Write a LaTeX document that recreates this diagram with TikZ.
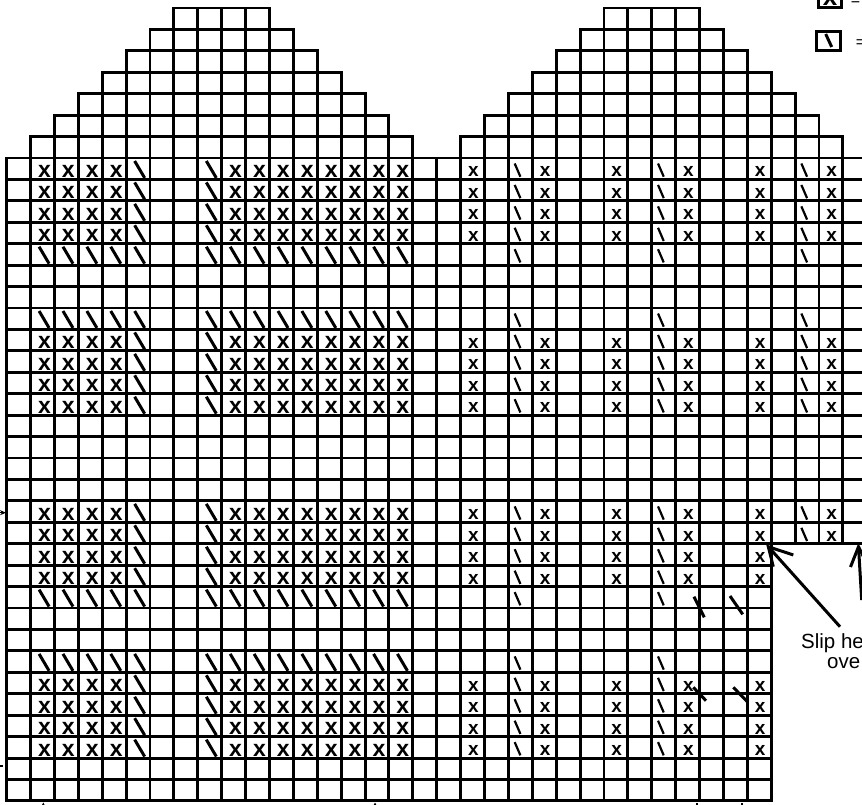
\documentclass[tikz,border=0pt]{standalone}
\usepackage{fontspec}
\setmainfont{Liberation Sans}
\usetikzlibrary{arrows.meta}
\begin{document}
\begin{tikzpicture}[x=1pt,y=-1pt,
  gridline/.style={line width=2.9pt,line cap=rect},
  xl/.style={font=\fontsize{23}{23}\selectfont\bfseries, inner sep=0pt, anchor=base},
  xr/.style={font=\fontsize{19}{19}\selectfont\bfseries, inner sep=0pt, anchor=base},
  bsl/.style={line width=3pt},
  bsr/.style={line width=2.2pt},
  tick/.style={line width=3pt},
  pointer/.style={line width=3pt, line join=miter},
  lbl/.style={font=\fontsize{20.5}{20.5}\selectfont, inner sep=0pt, anchor=base west},
  eqs/.style={font=\fontsize{16}{16}\selectfont, inner sep=0pt, anchor=base west},
  legbox/.style={line width=3pt},
]
\useasboundingbox (0,0) rectangle (862,805);
\clip (0,0) rectangle (862,805);
% ---- shaped tops ----
\foreach \off in {0,18} {
  \foreach \j in {0,...,6} {
    \pgfmathtruncatemacro\a{7-\j+\off}
    \pgfmathtruncatemacro\b{11+\j+\off}
    \draw[gridline] ({6.7+\a*23.89},{8+\j*21.43}) -- ({6.7+\b*23.89},{8+\j*21.43});
    \foreach \i in {\a,...,\b}
      \draw[gridline] ({6.7+\i*23.89},{8+\j*21.43}) -- ({6.7+\i*23.89},{8+(\j+1)*21.43});
  }
}
% ---- body grid ----
\foreach \j in {7,...,25}
  \draw[gridline] (6.7,{8+\j*21.43}) -- ({6.7+36*23.89},{8+\j*21.43});
\foreach \j in {26,...,37}
  \draw[gridline] (6.7,{8+\j*21.43}) -- ({6.7+32*23.89},{8+\j*21.43});
\foreach \i in {0,...,32}
  \draw[gridline] ({6.7+\i*23.89},{8+7*21.43}) -- ({6.7+\i*23.89},{8+37*21.43});
\foreach \i in {33,...,36}
  \draw[gridline] ({6.7+\i*23.89},{8+7*21.43}) -- ({6.7+\i*23.89},{8+25*21.43});
% ---- left chart symbols ----
\foreach \r in {1,2,3,4,9,10,11,12,17,18,19,20,25,26,27,28} {
  \foreach \i in {1,2,3,4,9,10,11,12,13,14,15,16}
    \node[xl] (xl-\r-\i) at ({6.7+\i*23.89+13.9},{8+(\r+7)*21.43-2}) {x};
  \foreach \i in {5,8}
    \draw[bsl] ({6.7+\i*23.89+8.5},{8+(\r+6)*21.43+3}) -- ({6.7+\i*23.89+18.5},{8+(\r+7)*21.43-1.5});
}
\foreach \r in {5,8,21,24} {
  \foreach \i in {1,2,3,4,5,8,9,10,11,12,13,14,15,16}
    \draw[bsl] ({6.7+\i*23.89+8.5},{8+(\r+6)*21.43+3}) -- ({6.7+\i*23.89+18.5},{8+(\r+7)*21.43-1.5});
}
% ---- right chart symbols ----
\foreach \r in {1,2,3,4,9,10,11,12,17,18} {
  \foreach \i in {19,22,25,28,31,34}
    \node[xr] (xr-\r-\i) at ({6.7+\i*23.89+12.8},{8+(\r+7)*21.43-2.5}) {x};
  \foreach \i in {21,27,33}
    \draw[bsr] ({6.7+\i*23.89+6.3},{8+(\r+6)*21.43+5.5}) -- ({6.7+\i*23.89+12},{8+(\r+7)*21.43-2.7});
}
\foreach \r in {19,20,25,26,27,28} {
  \foreach \i in {19,22,25,28,31}
    \node[xr] (xr-\r-\i) at ({6.7+\i*23.89+12.8},{8+(\r+7)*21.43-2.5}) {x};
  \foreach \i in {21,27}
    \draw[bsr] ({6.7+\i*23.89+6.3},{8+(\r+6)*21.43+5.5}) -- ({6.7+\i*23.89+12},{8+(\r+7)*21.43-2.7});
}
\foreach \i in {21,27,33}
  \foreach \r in {5,8}
    \draw[bsr] ({6.7+\i*23.89+6.3},{8+(\r+6)*21.43+5.5}) -- ({6.7+\i*23.89+12},{8+(\r+7)*21.43-2.7});
\foreach \i in {21,27}
  \foreach \r in {21,24}
    \draw[bsr] ({6.7+\i*23.89+6.3},{8+(\r+6)*21.43+5.5}) -- ({6.7+\i*23.89+12},{8+(\r+7)*21.43-2.7});
% ---- diagonal marks ----
\draw[tick] (694,596.7) -- (704.3,617.3);
\draw[tick] (730,596) -- (742.7,614.3);
\draw[tick] (693.3,687.3) -- (706,700.7);
\draw[tick] (733.3,687.3) -- (747.3,701.7);
% ---- marks at the edges ----
\draw[line width=1.5pt,-{Stealth[length=5pt,width=5pt]}] (43.3,840) -- (43.3,802.5);
\draw[line width=1.5pt,-{Stealth[length=5pt,width=5pt]}] (375,840) -- (375,802.5);
\draw[line width=2pt] (696.7,803) -- (696.7,840);
\draw[line width=2pt] (741.7,803) -- (741.7,840);
\draw[line width=1.5pt,-{Stealth[length=6pt,width=5pt]}] (-40,512.7) -- (6,512.7);
\draw[line width=1.2pt] (-40,766) -- (2.5,766);
% ---- note with arrows ----
\node[lbl] (slip) at (801,648.3) {Slip he};
\node[lbl] (ove) at (827,668.3) {ove};
\coordinate (tipA) at (768.3,546.7);
\coordinate (tipB) at (858.5,546.7);
\draw[pointer] (840,626.7) -- (tipA);
\draw[pointer] (793.3,555) -- (tipA) -- (773.3,566.7);
\draw[pointer] (861.7,600) -- (tipB);
\draw[pointer] (850.5,567) -- (tipB) -- (868,566);
% ---- legend ----
\draw[legbox] (818.2,-14) rectangle (841.8,7.8);
\node[font=\fontsize{26}{26}\selectfont\bfseries, inner sep=0pt, anchor=base] (legx) at (830,6) {x};
\node[eqs] (eq1) at (850.7,5.3) {=};
\draw[legbox] (816.5,31.5) rectangle (840.2,50.2);
\draw[bsl] (825.7,34) -- (831.7,47);
\node[eqs] (eq2) at (855.7,47.6) {=};
\end{tikzpicture}
\end{document}
